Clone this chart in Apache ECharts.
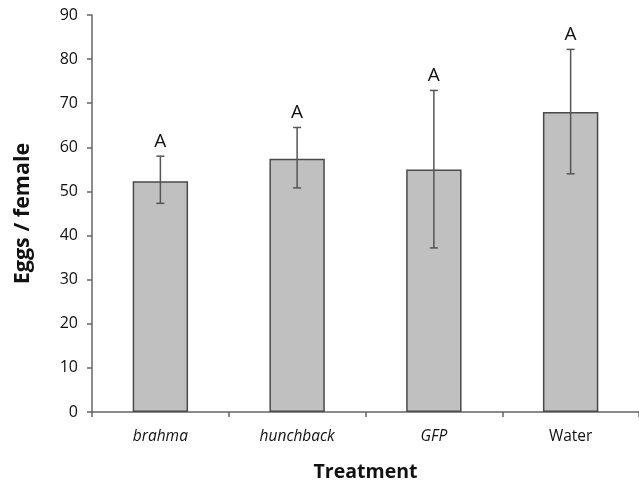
<!DOCTYPE html>
<html lang="en">
<head>
<meta charset="UTF-8" />
<title>Eggs per female</title>
<script src="https://cdn.jsdelivr.net/npm/echarts@6/dist/echarts.min.js"></script>
<style>
  html, body { margin: 0; padding: 0; background: #fff; }
  #main { width: 639px; height: 487px; }
</style>
</head>
<body>
<div id="main"></div>
<script type="text/javascript">
// data
var treatments = ['brahma', 'hunchback', 'GFP', 'Water'];
var italicNames = ['brahma', 'hunchback', 'GFP'];
var meanEggs = [52.3, 57.4, 55.0, 68.0];
var errLow = [47.3, 50.8, 37.2, 54.0];
var errHigh = [58.0, 64.5, 72.9, 82.2];
var groupLetters = ['A', 'A', 'A', 'A'];

var FONT = '"Open Sans", "DejaVu Sans", sans-serif';

var errData = [];
for (var i = 0; i < treatments.length; i++) {
  errData.push([i, errLow[i], errHigh[i], groupLetters[i]]);
}

var myChart = echarts.init(document.getElementById('main'));

var option = {
  animation: false,
  backgroundColor: '#fff',
  grid: { left: 92, right: -7, top: 15, bottom: 74 },
  xAxis: {
    type: 'category',
    data: treatments,
    name: 'Treatment',
    nameLocation: 'middle',
    nameGap: 50,
    nameTextStyle: { fontFamily: FONT, fontSize: 19.5, fontWeight: 'bold', color: '#111' },
    axisLine: { lineStyle: { color: '#666', width: 1.5 } },
    axisTick: { show: true, interval: 0, length: 5, alignWithLabel: false, lineStyle: { color: '#666', width: 1.5 } },
    axisLabel: {
      interval: 0,
      hideOverlap: false,
      margin: 17,
      fontFamily: FONT,
      fontSize: 15.5,
      color: '#111',
      formatter: function (v) {
        return italicNames.indexOf(v) >= 0 ? '{it|' + v + '}' : '{up|' + v + '}';
      },
      rich: {
        it: { fontFamily: FONT, fontSize: 15.5, fontStyle: 'italic', color: '#111' },
        up: { fontFamily: FONT, fontSize: 15.5, color: '#111' }
      }
    }
  },
  yAxis: {
    type: 'value',
    min: 0,
    max: 90,
    interval: 10,
    name: 'Eggs / female',
    nameLocation: 'middle',
    nameGap: 58,
    nameTextStyle: { fontFamily: FONT, fontSize: 21.5, fontWeight: 'bold', color: '#111' },
    axisLine: { show: true, lineStyle: { color: '#666', width: 1.5 } },
    axisTick: { show: true, length: 5, lineStyle: { color: '#666', width: 1.5 } },
    splitLine: { show: false },
    axisLabel: { margin: 14, fontFamily: FONT, fontSize: 16, color: '#111' }
  },
  series: [
    {
      type: 'bar',
      data: meanEggs,
      barWidth: '40.5%',
      itemStyle: { color: '#c0c0c0', borderColor: '#4a4a4a', borderWidth: 1.5 }
    },
    {
      type: 'custom',
      data: errData,
      z: 10,
      renderItem: function (params, api) {
        var x = api.value(0);
        var lo = api.coord([x, api.value(1)]);
        var hi = api.coord([x, api.value(2)]);
        var cap = 4;
        var st = { stroke: '#555', lineWidth: 1.5 };
        return {
          type: 'group',
          children: [
            { type: 'line', shape: { x1: hi[0], y1: hi[1], x2: lo[0], y2: lo[1] }, style: st },
            { type: 'line', shape: { x1: hi[0] - cap, y1: hi[1], x2: hi[0] + cap, y2: hi[1] }, style: st },
            { type: 'line', shape: { x1: lo[0] - cap, y1: lo[1], x2: lo[0] + cap, y2: lo[1] }, style: st },
            {
              type: 'text',
              style: {
                x: hi[0], y: hi[1] - 5,
                text: api.value(3),
                align: 'center', verticalAlign: 'bottom',
                fontFamily: FONT, fontSize: 19, fill: '#111'
              }
            }
          ]
        };
      }
    }
  ]
};

myChart.setOption(option);
</script>
</body>
</html>
